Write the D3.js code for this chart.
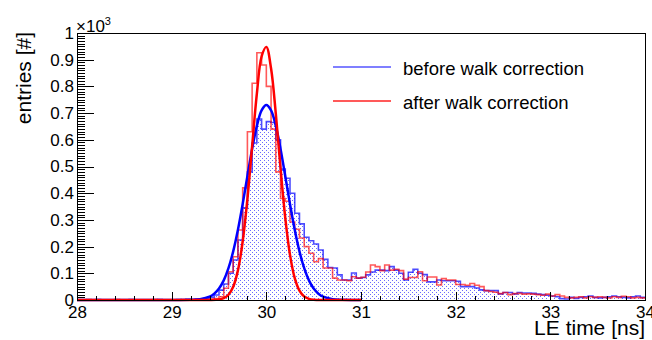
<!DOCTYPE html>
<html lang="en">
	<head>
		<meta charset="utf-8">
		<title>LE time walk correction</title>
		<script type="text/javascript" src="https://d3js.org/d3.v7.min.js"></script>
		<style type="text/css">
			body { margin: 0; background: white; }
			svg text { font-family: "Liberation Sans", Arial, sans-serif; fill: black; }
			.axis path { display: none; }
			.axis line { stroke: black; shape-rendering: crispEdges; }
			.axis text { font-size: 17px; }
		</style>
	</head>
	<body>
	<script type="text/javascript">

		// bins: 28 .. 34 ns, width 0.05 ns
		var binStart = 28;
		var binWidth = 0.05;

		var beforeCounts = [
			0, 1, 0, 0, 2, 1, 0, 1, 0, 0, 1, 2, 0, 1, 0, 1, 0, 2, 1, 0,
			1, 2, 1, 3, 2, 4,
			3, 6, 10, 19, 37, 60, 100, 150, 225, 345,
			480, 588, 678, 640, 668, 665, 600, 490, 456, 400,
			325, 285, 235, 222, 210, 187, 152, 122, 120, 94,
			75, 75, 101, 82, 84, 94, 105, 112, 112, 110,
			125, 112, 100, 75, 104, 115, 100, 95, 68, 68,
			75, 72, 72, 72, 70, 50, 50, 50, 45, 38,
			35, 35, 35, 23, 28, 28, 23, 28, 26, 26,
			25, 22, 20, 18, 15, 12, 5, 4, 10, 6, 10, 12,
			15, 10, 8, 10, 12, 15, 12, 10, 8, 12, 15, 10
		];

		var afterCounts = [
			1, 0, 2, 0, 1, 0, 0, 1, 2, 0, 0, 1, 0, 1, 1, 0, 2, 0, 1, 0,
			0, 1, 2, 1, 1, 2,
			0, 2, 3, 5, 12, 44, 106, 162, 262, 420,
			630, 812, 926, 880, 800, 640, 480, 380, 370, 292,
			265, 232, 200, 175, 143, 155, 120, 120, 82, 75,
			75, 72, 87, 82, 85, 105, 131, 125, 110, 131,
			112, 115, 110, 78, 84, 84, 106, 72, 86, 86,
			56, 80, 75, 75, 58, 58, 55, 62, 55, 50,
			35, 32, 29, 24, 28, 20, 24, 25, 22, 23,
			22, 20, 18, 22, 15, 20, 15, 10, 8, 10, 12, 8,
			12, 10, 12, 10, 8, 12, 10, 14, 12, 8, 10, 8
		];

		// fitted curves
		var beforeFitX = [28, 29.0, 29.2, 29.3, 29.4, 29.45, 29.5, 29.55, 29.6, 29.65, 29.7, 29.75, 29.8, 29.85, 29.9, 29.95, 30.0,
			30.05, 30.1, 30.15, 30.2, 30.25, 30.3, 30.35, 30.4, 30.45, 30.5, 30.55, 30.6, 30.7, 30.8, 31.0];
		var beforeFitY = [0, 0, 0.5, 2.8, 12.3, 23.7, 42.9, 73.5, 119, 182, 263, 359, 464, 566, 652, 710, 730,
			710, 652, 566, 464, 359, 263, 182, 119, 73.5, 42.9, 23.7, 12.3, 2.8, 0.5, 0];

		var afterFitX = [28, 29.2, 29.4, 29.5, 29.55, 29.6, 29.65, 29.7, 29.75, 29.8, 29.85, 29.9, 29.95, 30.0,
			30.05, 30.1, 30.15, 30.2, 30.25, 30.3, 30.35, 30.4, 30.45, 30.5, 30.6, 31.0];
		var afterFitY = [0, 0, 0.1, 2.1, 6.8, 19.6, 49.8, 111, 219, 378, 576, 773, 912, 948,
			867, 698, 494, 308, 169, 82, 35, 13, 4.3, 1.2, 0, 0];

		var xTicks = [28, 29, 30, 31, 32, 33, 34];
		var yTicks = [0, 100, 200, 300, 400, 500, 600, 700, 800, 900, 1000];
		var legendLabels = ["before walk correction", "after walk correction"];

		var w = 652;
		var h = 340;
		var padL = 77, padR = 645, padT = 33, padB = 300;

		var xScale = d3.scaleLinear().domain([28, 34]).range([padL, padR]);
		var yScale = d3.scaleLinear().domain([0, 1000]).range([padB, padT]);

		var svg = d3.select("body")
					.append("svg")
					.attr("width", w)
					.attr("height", h);

		var pat = svg.append("defs").append("pattern")
			.attr("id", "dots")
			.attr("patternUnits", "userSpaceOnUse")
			.attr("width", 4)
			.attr("height", 4);
		pat.append("rect").attr("x", 0).attr("y", 0).attr("width", 1).attr("height", 1).attr("fill", "#6a6aff");
		pat.append("rect").attr("x", 2).attr("y", 2).attr("width", 1).attr("height", 1).attr("fill", "#6a6aff");

		function binPoints(counts) {
			var pts = counts.map(function(c, i) { return [binStart + i * binWidth, c]; });
			pts.push([binStart + counts.length * binWidth, counts[counts.length - 1]]);
			return pts;
		}

		var stepLine = d3.line()
			.x(function(d) { return xScale(d[0]); })
			.y(function(d) { return yScale(d[1]); })
			.curve(d3.curveStepAfter);

		var stepArea = d3.area()
			.x(function(d) { return xScale(d[0]); })
			.y0(yScale(0))
			.y1(function(d) { return yScale(d[1]); })
			.curve(d3.curveStepAfter);

		var fitLine = d3.line()
			.x(function(d) { return xScale(d[0]); })
			.y(function(d) { return yScale(d[1]); })
			.curve(d3.curveCatmullRom);

		var beforePts = binPoints(beforeCounts);
		var afterPts = binPoints(afterCounts);

		// before: dotted fill + outline
		svg.append("path")
			.attr("d", stepArea(beforePts))
			.attr("fill", "url(#dots)");
		svg.append("path")
			.attr("d", stepLine(beforePts))
			.attr("fill", "none")
			.attr("stroke", "blue")
			.attr("stroke-opacity", 0.7)
			.attr("stroke-width", 1.6);

		// after: outline only
		svg.append("path")
			.attr("d", stepLine(afterPts))
			.attr("fill", "none")
			.attr("stroke", "red")
			.attr("stroke-opacity", 0.65)
			.attr("stroke-width", 1.6);

		// fits
		svg.append("path")
			.attr("d", fitLine(d3.zip(beforeFitX, beforeFitY)))
			.attr("fill", "none")
			.attr("stroke", "blue")
			.attr("stroke-width", 2.5);
		svg.append("path")
			.attr("d", fitLine(d3.zip(afterFitX, afterFitY)))
			.attr("fill", "none")
			.attr("stroke", "red")
			.attr("stroke-width", 2.5);

		// frame
		svg.append("rect")
			.attr("x", padL)
			.attr("y", padT)
			.attr("width", padR - padL)
			.attr("height", padB - padT)
			.attr("fill", "none")
			.attr("stroke", "black")
			.attr("stroke-width", 1)
			.attr("shape-rendering", "crispEdges");

		// x axis
		svg.append("g")
			.attr("class", "axis")
			.attr("transform", "translate(0," + padB + ")")
			.call(d3.axisBottom(xScale).tickValues(d3.range(28, 34.001, 0.2)).tickSizeInner(-4).tickSizeOuter(0).tickFormat(""));
		svg.append("g")
			.attr("class", "axis")
			.attr("transform", "translate(0," + padB + ")")
			.call(d3.axisBottom(xScale).tickValues(xTicks).tickSizeInner(-8).tickSizeOuter(0).tickPadding(6).tickFormat(d3.format("d")));

		// y axis
		svg.append("g")
			.attr("class", "axis")
			.attr("transform", "translate(" + padL + ",0)")
			.call(d3.axisLeft(yScale).tickValues(d3.range(0, 1001, 10)).tickSizeInner(-8).tickSizeOuter(0).tickFormat(""));
		svg.append("g")
			.attr("class", "axis")
			.attr("transform", "translate(" + padL + ",0)")
			.call(d3.axisLeft(yScale).tickValues(yTicks).tickSizeInner(-17).tickSizeOuter(0).tickPadding(3)
				.tickFormat(function(d) { return d3.format("~g")(d / 1000); }));

		// exponent
		var ex = svg.append("text")
			.attr("x", padL - 1)
			.attr("y", 32)
			.attr("font-size", "17px");
		ex.append("tspan").text("\u00d710");
		ex.append("tspan").attr("dy", -7).attr("font-size", "11px").text("3");

		// titles
		svg.append("text")
			.attr("transform", "translate(31," + (padT - 1) + ") rotate(-90)")
			.attr("text-anchor", "end")
			.attr("font-size", "21px")
			.text("entries [#]");

		svg.append("text")
			.attr("x", padR)
			.attr("y", 335)
			.attr("text-anchor", "end")
			.attr("font-size", "21px")
			.text("LE time [ns]");

		// legend
		var legColors = ["blue", "red"];
		var legY = [67, 101];
		legendLabels.forEach(function(lab, i) {
			svg.append("line")
				.attr("x1", 333).attr("x2", 391)
				.attr("y1", legY[i]).attr("y2", legY[i])
				.attr("stroke", legColors[i])
				.attr("stroke-opacity", i == 0 ? 1 : 0.65)
				.attr("stroke-width", i == 0 ? 1.2 : 2);
			svg.append("text")
				.attr("x", 403)
				.attr("y", legY[i] + 8)
				.attr("font-size", "18.5px")
				.text(lab);
		});

	</script>
	</body>
</html>
